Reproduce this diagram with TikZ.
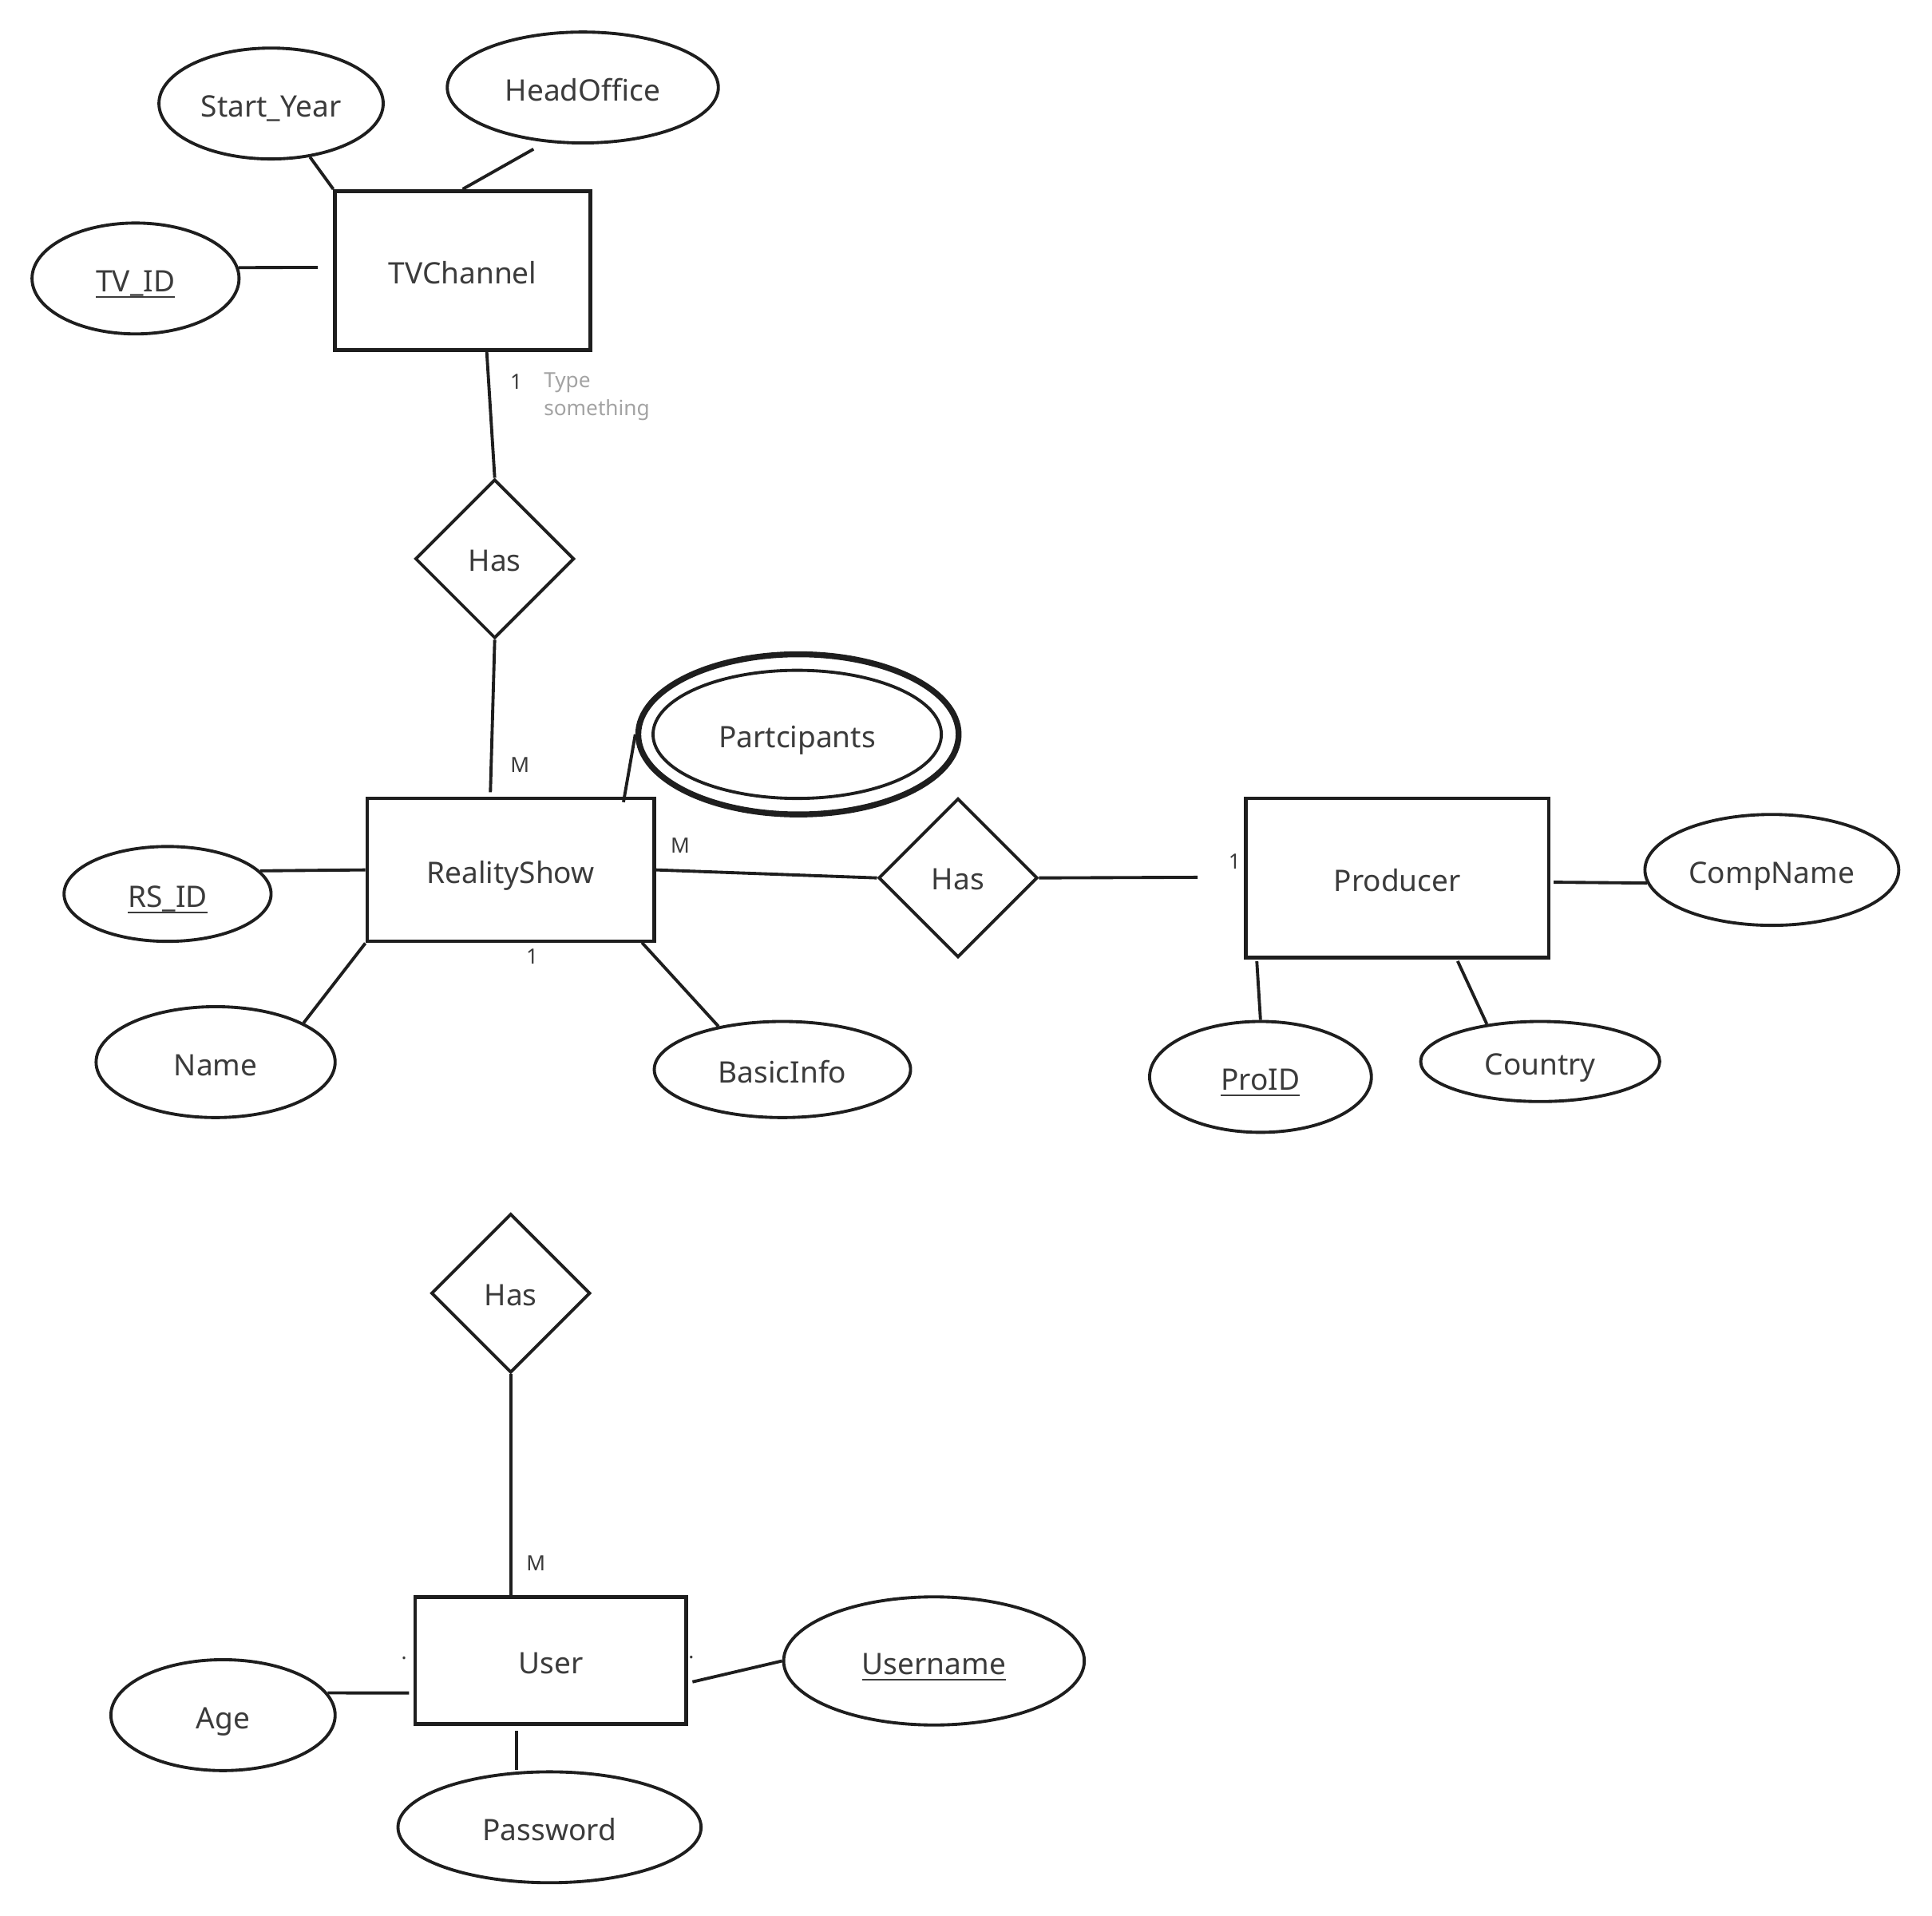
\documentclass[tikz,border=0pt]{standalone}
\usepackage{fontspec}
\setmainfont{Noto Sans}
\usetikzlibrary{shapes.geometric}
\definecolor{ink}{HTML}{1E1E1E}
\definecolor{txt}{HTML}{3B3B3B}
\definecolor{hint}{HTML}{A3A3A3}
\newcommand\myul[1]{\setbox0\hbox{#1}\rlap{\color{txt}\rule[-2.4pt]{\wd0}{0.7pt}}\box0}
\begin{document}
\begin{tikzpicture}[x=0.5pt,y=-0.5pt,
  every node/.style={font=\fontsize{12}{14}\selectfont, text=txt},
  ent/.style={draw=ink, line width=1.5pt, rectangle, inner sep=0pt, text height=13.3pt, text depth=2.4pt},
  attr/.style={draw=ink, line width=1.25pt, ellipse, inner sep=0pt, text height=13.3pt, text depth=2.4pt},
  rel/.style={draw=ink, line width=1.25pt, diamond, aspect=1, inner sep=0pt, minimum width=64.5pt, minimum height=64.5pt, text height=12.3pt, text depth=2.4pt},
  card/.style={font=\fontsize{8.5}{11.5}\selectfont, text=txt, inner sep=0pt},
  conn/.style={draw=ink, line width=1.25pt}]
\fill[white] (0,0) rectangle (1568,1555);
\useasboundingbox (0,0) rectangle (1568,1555);

% entities
\node[ent, minimum width=103.5pt, minimum height=64.5pt] (tvc) at (375.5,219.5) {TVChannel};
\node[ent, minimum width=116.5pt, minimum height=58pt] (rs) at (414.5,706) {RealityShow};
\node[ent, minimum width=123pt, minimum height=64.5pt] (prod) at (1134,712.5) {Producer};
\node[ent, minimum width=110pt, minimum height=51.5pt] (user) at (447,1347.5) {User};

% relationships
\node[rel] (has1) at (401.5,453.5) {Has};
\node[rel] (has2) at (777.5,712.5) {Has};
\node[rel] (has3) at (414.5,1049.5) {Has};

% attributes
\node[attr, minimum width=91pt, minimum height=45pt] (sy) at (220,84) {Start\_Year};
\node[attr, minimum width=110pt, minimum height=45pt] (ho) at (473,71) {HeadOffice};
\node[attr, minimum width=84pt, minimum height=45pt] (tvid) at (110,226) {\myul{TV\_ID}};
\node[attr, line width=2.4pt, minimum width=130pt, minimum height=65pt] (partc) at (648,596) {};
\node[attr, minimum width=117pt, minimum height=52pt] (partcin) at (647,596) {Partcipants};
\node[attr, minimum width=84pt, minimum height=38.5pt] (rsid) at (136,725.5) {\myul{RS\_ID}};
\node[attr, minimum width=97pt, minimum height=45pt] (nm) at (175,862) {Name};
\node[attr, minimum width=104pt, minimum height=39pt] (bi) at (635,868) {BasicInfo};
\node[attr, minimum width=103pt, minimum height=45pt] (cn) at (1438,706) {CompName};
\node[attr, minimum width=90pt, minimum height=45pt] (pid) at (1023,874) {\myul{ProID}};
\node[attr, minimum width=97pt, minimum height=32.5pt] (ctry) at (1250,861.5) {Country};
\node[attr, minimum width=122pt, minimum height=52pt] (un) at (758,1348) {\myul{Username}};
\node[attr, minimum width=91pt, minimum height=45pt] (age) at (181,1392) {Age};
\node[attr, minimum width=123pt, minimum height=45pt] (pw) at (446,1483) {Password};

% cardinality labels
\node[card] (c1) at (419,310) {1};
\node[card, text=hint, align=left, anchor=north west] (hintlbl) at (441,302) {Type\\something};
\node[card] (c2) at (422,621) {M};
\node[card] (c3) at (432,776) {1};
\node[card] (c4) at (552,686) {M};
\node[card] (c5) at (1002,699) {1};
\node[card] (c6) at (435,1269) {M};
\node[card] (dotl) at (328,1346) {.};
\node[card] (dotr) at (561,1345) {.};

% free ends
\coordinate (hoend) at (433,121);
\coordinate (tvidend) at (258,217);
\coordinate (tvcbot) at (395,285);
\coordinate (rstop) at (398,643);
\coordinate (rsp) at (506,651);
\coordinate (bitop) at (521,765);
\coordinate (prodgap) at (972,712);
\coordinate (cnend) at (1261,716);
\coordinate (pidtop) at (1020,780);
\coordinate (ctrytop) at (1183,780);
\coordinate (unend) at (562,1365);
\coordinate (ageend) at (332,1374);
\coordinate (pwtop) at (419,1405);

% connectors
\draw[conn] (sy) -- (tvc.north west);
\draw[conn] (hoend) -- (tvc.north);
\draw[conn] (tvid.6) -- (tvidend);
\draw[conn] (tvcbot) -- (has1.north);
\draw[conn] (has1.south) -- (rstop);
\draw[conn] (partc.west) -- (rsp);
\draw[conn] (rsid.14) -- (rs.west);
\draw[conn] (nm.24) -- (rs.south west);
\draw[conn] (bi.146) -- (bitop);
\draw[conn] (rs.east) -- (has2.west);
\draw[conn] (has2.east) -- (prodgap);
\draw[conn] (cnend) -- (cn.186);
\draw[conn] (pidtop) -- (pid.north);
\draw[conn] (ctrytop) -- (ctry.145);
\draw[conn] (has3.south) -- (has3.south |- user.north);
\draw[conn] (unend) -- (un.west);
\draw[conn] (age.12) -- (ageend);
\draw[conn] (pwtop) -- (pwtop |- pw.north);
\end{tikzpicture}
\end{document}
